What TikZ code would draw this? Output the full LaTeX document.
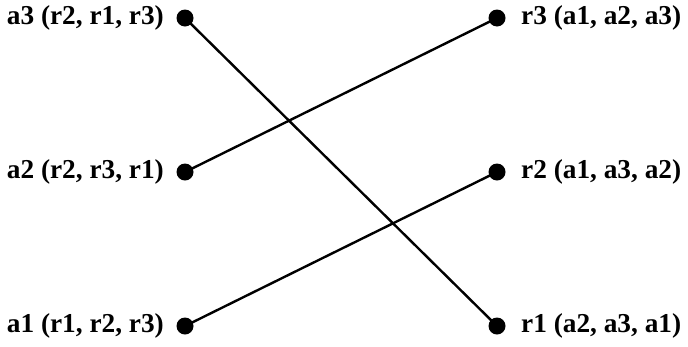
\documentclass[tikz,border=0pt]{standalone}
\usepackage{fontspec}
\setmainfont{Liberation Serif}
\begin{document}
\begin{tikzpicture}[x=1pt,y=-1pt,
  dot/.style={circle,fill=black,inner sep=0pt,minimum size=17pt},
  lbl/.style={font=\fontsize{27.3}{31}\selectfont\bfseries,inner sep=0pt},
  link/.style={line width=2.4pt}]
\useasboundingbox (0,0) rectangle (688,346);
\node[dot] (a3) at (185,18) {};
\node[dot] (a2) at (185,172) {};
\node[dot] (a1) at (185,326) {};
\node[dot] (r3) at (497,18) {};
\node[dot] (r2) at (497,172) {};
\node[dot] (r1) at (497,326) {};
\node[lbl,anchor=east] (ta3) at (164,18) {a3 (r2, r1, r3)};
\node[lbl,anchor=east] (ta2) at (164,172) {a2 (r2, r3, r1)};
\node[lbl,anchor=east] (ta1) at (164,326) {a1 (r1, r2, r3)};
\node[lbl,anchor=west] (tr3) at (521,18) {r3 (a1, a2, a3)};
\node[lbl,anchor=west] (tr2) at (521,172) {r2 (a1, a3, a2)};
\node[lbl,anchor=west] (tr1) at (521,326) {r1 (a2, a3, a1)};
\draw[link] (a3.center) -- (r1.center);
\draw[link] (a2.center) -- (r3.center);
\draw[link] (a1.center) -- (r2.center);
\end{tikzpicture}
\end{document}
